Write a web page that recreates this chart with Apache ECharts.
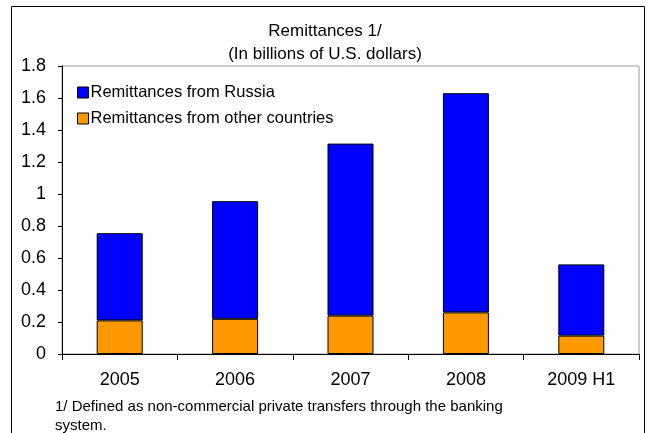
<!DOCTYPE html>
<html>
<head>
<meta charset="utf-8">
<script src="https://cdn.jsdelivr.net/npm/echarts@6/dist/echarts.min.js"></script>
<style>
  html, body { margin: 0; padding: 0; background: #fff; }
  #chart { width: 650px; height: 433px; }
</style>
</head>
<body>
<div id="chart"></div>
<script>
// Remittances by source, billions of U.S. dollars
const categories = ['2005', '2006', '2007', '2008', '2009 H1'];
const fromOther = [0.21, 0.22, 0.24, 0.26, 0.115];
const fromRussia = [0.545, 0.735, 1.075, 1.37, 0.445];
const yTicks = { min: 0, max: 1.8, interval: 0.2 };

const FONT = '"Liberation Sans", Arial, sans-serif';

const chart = echarts.init(document.getElementById('chart'), null, { renderer: 'canvas' });

chart.setOption({
  animation: false,
  backgroundColor: '#fff',
  textStyle: { fontFamily: FONT, color: '#000' },
  title: {
    text: 'Remittances 1/\n(In billions of U.S. dollars)',
    left: 'center',
    top: 15,
    textStyle: { fontFamily: FONT, fontSize: 17, fontWeight: 'normal', color: '#000', lineHeight: 23 }
  },
  legend: {
    orient: 'vertical',
    left: 72,
    top: 79,
    itemWidth: 11,
    itemHeight: 11,
    itemGap: 9,
    icon: 'rect',
    textStyle: { fontFamily: FONT, fontSize: 16.5, color: '#000', padding: [0, 0, 0, -3] },
    itemStyle: { borderColor: '#000', borderWidth: 1 },
    data: ['Remittances from Russia', 'Remittances from other countries']
  },
  grid: {
    left: 62, right: 11, top: 66, bottom: 79,
    show: true, borderColor: '#9a9a9a', borderWidth: 1, backgroundColor: 'transparent',
    containLabel: false
  },
  xAxis: {
    type: 'category',
    data: categories,
    axisLine: { lineStyle: { color: '#000', width: 1 } },
    axisTick: { show: true, length: 6, lineStyle: { color: '#000' } },
    axisLabel: { fontFamily: FONT, fontSize: 18, color: '#000', margin: 17 },
    splitLine: { show: false }
  },
  yAxis: {
    type: 'value',
    min: yTicks.min, max: yTicks.max, interval: yTicks.interval,
    axisLine: { show: true, lineStyle: { color: '#000', width: 1 } },
    axisTick: { show: true, length: 4, lineStyle: { color: '#000' } },
    axisLabel: { fontFamily: FONT, fontSize: 18, color: '#000', margin: 16 },
    splitLine: { show: false }
  },
  series: [
    {
      name: 'Remittances from other countries',
      type: 'bar',
      stack: 'total',
      barWidth: 46,
      data: fromOther,
      itemStyle: { color: '#ff9900', borderColor: '#000', borderWidth: 1 }
    },
    {
      name: 'Remittances from Russia',
      type: 'bar',
      stack: 'total',
      barWidth: 46,
      data: fromRussia,
      itemStyle: { color: '#0000ff', borderColor: '#000', borderWidth: 1 }
    }
  ],
  graphic: [
    {
      type: 'rect',
      shape: { x: 11.5, y: 6.5, width: 633, height: 440 },
      style: { fill: 'none', stroke: '#000', lineWidth: 1 },
      silent: true
    },
    {
      type: 'text',
      left: 55,
      top: 397,
      style: {
        text: '1/ Defined as non-commercial private transfers through the banking\nsystem.',
        fontFamily: FONT,
        fontSize: 15,
        lineHeight: 19,
        fill: '#000'
      },
      silent: true
    }
  ]
});
</script>
</body>
</html>
